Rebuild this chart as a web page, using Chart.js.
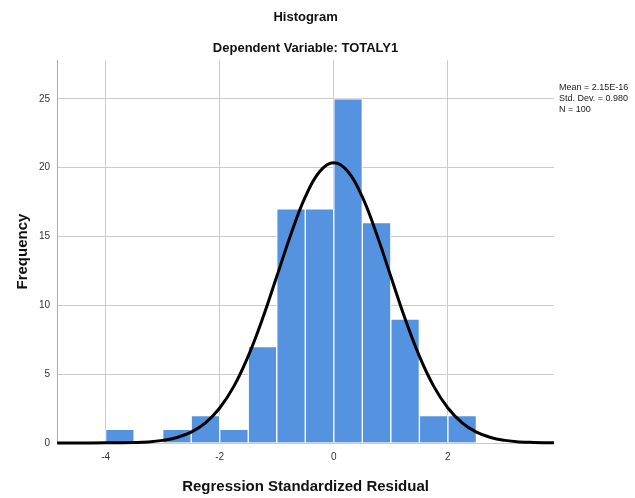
<!DOCTYPE HTML>
<html>

<head>
  <title>Histogram</title>
  <meta content="width=device-width, initial-scale=1.0" name="viewport">
  <script src="https://cdn.jsdelivr.net/npm/chart.js"></script>
  <style>
    body { margin: 0; background: #fff; }
    .chart-container { position: relative; width: 635px; height: 498px; }
  </style>
</head>

<body>
  <div class="chart-container">
    <canvas id="histChart"></canvas>
  </div>

  <script type="text/javascript">
    const ctx_hist = document.getElementById('histChart');
    const fontName = "'Liberation Sans', Arial, sans-serif";

    // histogram bins (centre of each 0.5 wide bin) and counts
    var binCenters = [-3.75, -3.25, -2.75, -2.25, -1.75, -1.25, -0.75, -0.25, 0.25, 0.75, 1.25, 1.75, 2.25];
    var binCounts  = [1, 0, 1, 2, 1, 7, 17, 17, 25, 16, 9, 2, 2];

    // normal curve
    var curveX = [-4.85, -4.5, -4, -3.5, -3.25, -3, -2.75, -2.5, -2.25, -2, -1.75, -1.5, -1.25, -1, -0.75, -0.5, -0.25, 0,
                  0.25, 0.5, 0.75, 1, 1.25, 1.5, 1.75, 2, 2.25, 2.5, 2.75, 3, 3.25, 3.5, 3.86];
    var curveY = [0, 0, 0.01, 0.04, 0.08, 0.19, 0.40, 0.79, 1.46, 2.54, 4.13, 6.31, 9.02, 12.09, 15.18, 17.87, 19.70, 20.35,
                  19.70, 17.87, 15.18, 12.09, 9.02, 6.31, 4.13, 2.54, 1.46, 0.79, 0.40, 0.19, 0.08, 0.04, 0.01];

    var xTicks = [-4, -2, 0, 2];
    var yTicks = [0, 5, 10, 15, 20, 25];
    var statLines = ["Mean = 2.15E-16", "Std. Dev. = 0.980", "N = 100"];

    var barData = [];
    for (let i = 0; i < binCenters.length; i++) {
      barData.push({ x: binCenters[i], y: binCounts[i] });
    }
    var lineData = [];
    for (let i = 0; i < curveX.length; i++) {
      lineData.push({ x: curveX[i], y: curveY[i] });
    }

    // little text block on the right with mean / sd / n
    const statsText = {
      id: 'statsText',
      afterDraw(chart) {
        const c = chart.ctx;
        c.save();
        c.font = "9px " + fontName;
        c.fillStyle = '#222';
        c.textBaseline = 'middle';
        c.textAlign = 'left';
        for (let i = 0; i < statLines.length; i++) {
          c.fillText(statLines[i], chart.chartArea.right + 5, 88 + i * 11);
        }
        c.restore();
      }
    };

    var chartHist = new Chart(ctx_hist, {
      type: 'bar',
      data: {
        datasets: [
          {
            type: 'line',
            data: lineData,
            borderColor: 'black',
            borderWidth: 3,
            pointRadius: 0,
            tension: 0.4,
            fill: false,
            clip: false,
          },
          {
            data: barData,
            backgroundColor: '#5592e0',
            borderColor: 'white',
            borderWidth: 1,
            barPercentage: 1.0,
            categoryPercentage: 1.0,
          },
        ],
      },
      options: {
        responsive: true,
        maintainAspectRatio: false,
        animation: false,
        layout: { padding: { left: 14, right: 81, top: 0, bottom: 2 } },
        scales: {
          x: {
            type: 'linear',
            offset: false,
            min: -4.85,
            max: 3.86,
            afterBuildTicks: (scale) => { scale.ticks = xTicks.map(v => ({ value: v })); },
            ticks: { color: '#333', font: { family: fontName, size: 10 }, padding: 8, maxRotation: 0 },
            grid: { color: '#cccccc', drawTicks: false, offset: false },
            border: { display: false },
            title: {
              display: true,
              text: 'Regression Standardized Residual',
              color: '#111',
              font: { family: fontName, size: 15, weight: 'bold' },
              padding: { top: 7, bottom: 0 },
            },
          },
          y: {
            min: 0,
            max: 27.8,
            afterBuildTicks: (scale) => { scale.ticks = yTicks.map(v => ({ value: v })); },
            ticks: { color: '#333', font: { family: fontName, size: 10 }, padding: 7 },
            grid: { color: '#cccccc', drawTicks: false },
            border: { display: true, color: '#aaaaaa' },
            title: {
              display: true,
              text: 'Frequency',
              color: '#111',
              font: { family: fontName, size: 15, weight: 'bold' },
              padding: { top: 0, bottom: 0 },
            },
          },
        },
        plugins: {
          legend: { display: false },
          tooltip: { enabled: false },
          title: {
            display: true,
            text: 'Histogram',
            fullSize: false,
            color: '#111',
            font: { family: fontName, size: 13, weight: 'bold' },
            padding: { top: 10, bottom: 8 },
          },
          subtitle: {
            display: true,
            text: 'Dependent Variable: TOTALY1',
            fullSize: false,
            color: '#111',
            font: { family: fontName, size: 13, weight: 'bold' },
            padding: { top: 7, bottom: 4 },
          },
        },
      },
      plugins: [statsText],
    });
  </script>
</body>

</html>
